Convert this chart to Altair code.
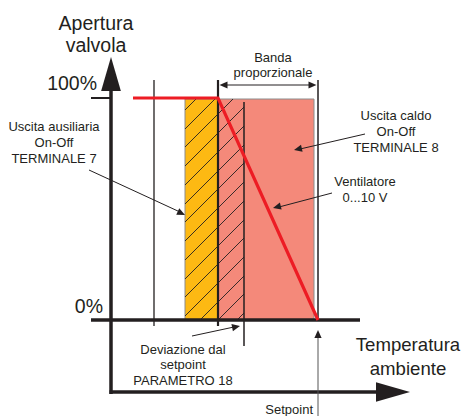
import math
import altair as alt
import pandas as pd

# ---------------- diagram coordinates (reference drawing units) ----------------
X_DOMAIN = [8, 462]
Y_DOMAIN = [8, 416]
W, H = 454, 408

INK = "#231F20"
FONT = "Liberation Sans"

# filled zones
zone_name = ["Uscita ausiliaria", "Uscita caldo"]
zone_x1 = [185, 218]
zone_x2 = [218, 314]
zone_y1 = [99, 99]
zone_y2 = [320, 320]
zone_fill = ["#FDB913", "#F4897A"]

# hatching: intercepts on left edge of hatched band (x 185..244, y 99..320)
hatch_c = [110, 129, 147, 166, 185, 204, 222, 241, 260, 279, 297, 316, 335, 353, 372]
hatch_left, hatch_right, hatch_top, hatch_bottom = 185, 244, 99, 320

# valve opening curve (red)
curve_x = [133, 218, 318]
curve_y = [98, 98, 320]

# straight segments: x, y, x2, y2, width, colour
seg_x = [154, 218, 244, 318, 91, 91, 111, 109.5, 318, 89, 365, 332, 192, 222]
seg_y = [80, 80, 102, 80, 320, 98, 90, 392, 416, 170, 134, 193, 336, 85]
seg_x2 = [154, 218, 244, 318, 360, 111, 111, 380, 318, 180, 300, 279, 234, 312]
seg_y2 = [326, 326, 346, 320, 320, 98, 394, 392, 336, 212, 149, 207, 327, 85]
seg_w = [1.3, 2.2, 1.5, 1.5, 3.5, 2, 3.5, 3.5, 1, 1, 1, 1, 1, 1]
seg_c = [INK, INK, INK, INK, INK, INK, INK, INK, "#555555", INK, INK, INK, INK, INK]

# big axis arrowheads (tip positions, direction)
big_x = [111, 410]
big_y = [57, 392]
big_dx = [0, 1]
big_dy = [-1, 0]

# small annotation arrowheads: tip and direction from start point
small_x = [185, 294, 273, 240, 318, 219.5, 316.5]
small_y = [215, 150, 208, 326, 330, 85, 85]
small_fx = [89, 365, 332, 192, 318, 316, 220]
small_fy = [170, 134, 193, 336, 416, 85, 85]

# texts
big_text = ["Apertura", "valvola", "Temperatura", "ambiente"]
big_tx = [96, 96, 408, 408]
big_ty = [30, 52, 351, 375]
big_size = [19.5, 19.5, 18.6, 18.6]

tick_text = ["100%", "0%"]
tick_tx = [97, 103]
tick_ty = [90, 313]

small_text = ["Banda", "proporzionale",
              "Uscita caldo", "On-Off", "TERMINALE 8",
              "Ventilatore", "0...10 V",
              "Uscita ausiliaria", "On-Off", "TERMINALE 7",
              "Deviazione dal", "setpoint", "PARAMETRO 18"]
small_tx = [273, 273, 396, 396, 396, 365, 365, 54, 54, 54, 183, 183, 183]
small_ty = [61.5, 76.5, 120, 135.5, 151.5, 185.5, 201.5, 130.5, 147, 162.5, 354, 369, 385]

setpoint_text = ["Setpoint"]
setpoint_tx = [313]
setpoint_ty = [414]

# ---------------- build tables ----------------
zones = pd.DataFrame({"name": zone_name, "x": zone_x1, "x2": zone_x2,
                      "y": zone_y1, "y2": zone_y2, "fill": zone_fill})

hx, hy, hx2, hy2 = [], [], [], []
for c in hatch_c:
    xs = hatch_left + max(0, c - hatch_bottom)
    xe = min(hatch_right, hatch_left + c - hatch_top)
    hx.append(xs); hy.append(c - (xs - hatch_left))
    hx2.append(xe); hy2.append(c - (xe - hatch_left))
hatch = pd.DataFrame({"x": hx, "y": hy, "x2": hx2, "y2": hy2})

curve = pd.DataFrame({"x": curve_x, "y": curve_y, "o": list(range(len(curve_x)))})

segs = pd.DataFrame({"x": seg_x, "y": seg_y, "x2": seg_x2, "y2": seg_y2,
                     "w": seg_w, "c": seg_c})

def ang(dx, dy):
    return math.degrees(math.atan2(dy, dx)) % 360

big = pd.DataFrame({"x": big_x, "y": big_y,
                    "a": [ang(dx, dy) for dx, dy in zip(big_dx, big_dy)]})
small = pd.DataFrame({"x": small_x, "y": small_y,
                      "a": [ang(x - fx, y - fy) for x, y, fx, fy in
                            zip(small_x, small_y, small_fx, small_fy)]})

big_t = pd.DataFrame({"t": big_text, "x": big_tx, "y": big_ty, "s": big_size})
tick_t = pd.DataFrame({"t": tick_text, "x": tick_tx, "y": tick_ty})
small_t = pd.DataFrame({"t": small_text, "x": small_tx, "y": small_ty})
sp_t = pd.DataFrame({"t": setpoint_text, "x": setpoint_tx, "y": setpoint_ty})

xs_ = alt.Scale(domain=X_DOMAIN, range=[0, W], zero=False, nice=False)
ys_ = alt.Scale(domain=Y_DOMAIN, range=[0, H], zero=False, nice=False)

def X(f="x"):
    return alt.X(f"{f}:Q", scale=xs_, axis=None)

def Y(f="y"):
    return alt.Y(f"{f}:Q", scale=ys_, axis=None)

zone_layer = alt.Chart(zones).mark_rect(stroke="#8C8C8C", strokeWidth=1).encode(
    x=X(), x2="x2:Q", y=Y(), y2="y2:Q",
    fill=alt.Fill("fill:N", scale=None))

hatch_layer = alt.Chart(hatch).mark_rule(color=INK, strokeWidth=0.9).encode(
    x=X(), x2="x2:Q", y=Y(), y2="y2:Q")

seg_layer = alt.Chart(segs).mark_rule().encode(
    x=X(), x2="x2:Q", y=Y(), y2="y2:Q",
    strokeWidth=alt.StrokeWidth("w:Q", scale=None),
    color=alt.Color("c:N", scale=None))

curve_layer = alt.Chart(curve).mark_line(color="#ED1C24", strokeWidth=3.2,
                                         strokeJoin="miter").encode(
    x=X(), y=Y(), order="o:Q")

big_path = "M0,0L-1,-0.29L-1,0.29Z"
big_layer = alt.Chart(big).mark_point(shape=big_path, filled=True, color=INK,
                                      opacity=1, size=4624).encode(
    x=X(), y=Y(), angle=alt.Angle("a:Q", scale=None))

small_path = "M0,0L-1,-0.45L-1,0.45Z"
small_layer = alt.Chart(small).mark_point(shape=small_path, filled=True, color=INK,
                                          opacity=1, size=256).encode(
    x=X(), y=Y(), angle=alt.Angle("a:Q", scale=None))

big_text_layer = alt.Chart(big_t).mark_text(font=FONT, color=INK,
                                            align="center", baseline="alphabetic").encode(
    x=X(), y=Y(), text="t:N", size=alt.Size("s:Q", scale=None))
tick_text_layer = alt.Chart(tick_t).mark_text(font=FONT, fontSize=19.5, color=INK,
                                              align="right", baseline="alphabetic").encode(
    x=X(), y=Y(), text="t:N")
small_text_layer = alt.Chart(small_t).mark_text(font=FONT, fontSize=13, color=INK,
                                                align="center", baseline="alphabetic").encode(
    x=X(), y=Y(), text="t:N")
sp_text_layer = alt.Chart(sp_t).mark_text(font=FONT, fontSize=13, color=INK,
                                          align="right", baseline="alphabetic").encode(
    x=X(), y=Y(), text="t:N")

chart = alt.layer(
    zone_layer, hatch_layer, seg_layer, curve_layer, big_layer, small_layer,
    big_text_layer, tick_text_layer, small_text_layer, sp_text_layer
).properties(
    width=W, height=H, padding=0, autosize=alt.AutoSizeParams(type="none"),
    background="white"
).configure_view(stroke=None)

chart.save("out.html", embed_options={"renderer": "svg", "actions": False})
